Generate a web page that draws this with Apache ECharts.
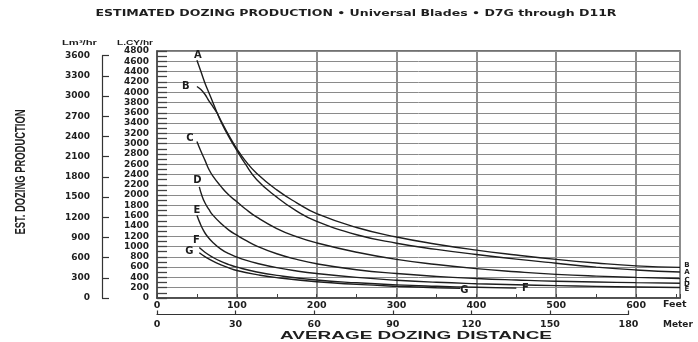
<!DOCTYPE html>
<html>
<head>
<meta charset="utf-8">
<script src="https://cdn.jsdelivr.net/npm/echarts@6/dist/echarts.min.js"></script>
<style>html,body{margin:0;padding:0;background:#fff;overflow:hidden}#c{width:698px;height:342px}</style>
</head>
<body>
<div id="c"></div>
<script>
// ---------- data (feet, loose cubic yards per hour) ----------
const curveNames = ['A', 'B', 'C', 'D', 'E', 'F', 'G'];
const curveA = [[50,4620],[55,4400],[60,4180],[65,3990],[70,3800],[75,3610],[80,3430],[90,3130],[100,2870],[110,2620],[125,2300],[150,1960],[175,1690],[200,1490],[250,1230],[300,1065],[350,945],[400,845],[450,755],[500,675],[550,600],[600,545],[655,505]];
const curveB = [[50,4110],[55,4050],[60,3960],[65,3830],[70,3720],[75,3600],[80,3450],[90,3160],[100,2900],[110,2680],[125,2420],[150,2100],[175,1850],[200,1640],[250,1370],[300,1185],[350,1045],[400,930],[450,835],[500,750],[550,680],[600,625],[655,595]];
const curveC = [[50,3040],[55,2850],[60,2680],[65,2500],[70,2370],[80,2170],[90,2000],[100,1870],[110,1740],[125,1570],[150,1350],[175,1190],[200,1070],[250,890],[300,750],[350,650],[400,570],[450,510],[500,460],[550,425],[600,400],[655,380]];
const curveD = [[53,2160],[56,2000],[60,1850],[65,1720],[70,1610],[80,1450],[90,1320],[100,1220],[110,1130],[125,1010],[150,860],[175,750],[200,665],[250,550],[300,475],[350,420],[400,380],[450,350],[500,325],[550,310],[600,298],[655,288]];
const curveE = [[50,1610],[54,1450],[58,1320],[62,1220],[70,1080],[80,950],[90,860],[100,795],[110,740],[125,675],[150,590],[175,525],[200,475],[250,400],[300,345],[350,305],[400,278],[450,258],[500,240],[550,226],[600,214],[655,205]];
const curveF = [[53,980],[60,890],[70,790],[80,710],[90,650],[100,600],[125,505],[150,440],[200,350],[250,295],[300,255],[350,228],[400,208],[450,192]];
const curveG = [[53,880],[60,805],[70,715],[80,645],[90,585],[100,535],[125,455],[150,395],[200,315],[250,265],[300,228],[350,200],[380,188]];
const curves = [curveA, curveB, curveC, curveD, curveE, curveF, curveG];

// axis ranges / ticks
const feetRange = [0, 655], feetTickStep = 50, feetLabelStep = 100;
const lcyRange = [0, 4800], lcyTickStep = 100, lcyLabelStep = 200;
const m3Range = [0, 3600], m3Step = 300;
const meterRange = [0, 180], meterStep = 30;
const LCY_TO_M3 = 0.7646;
const FT_PER_M = 3.28084;

// texts
const titleText = 'ESTIMATED DOZING PRODUCTION \u2022 Universal Blades \u2022 D7G through D11R';
const yTitle = 'EST. DOZING PRODUCTION';
const xTitle = 'AVERAGE DOZING DISTANCE';
const m3Unit = 'Lm\u00b3/hr';
const lcyUnit = 'L.CY/hr';

// ---------- layout (pixels) ----------
const W = 698, H = 342;
const plotL = 157, plotR = 18, plotT = 51, plotB = 44;
const plotW = W - plotL - plotR, plotH = H - plotT - plotB;
const m3GridH = plotH * m3Range[1] / (lcyRange[1] * LCY_TO_M3);
const meterGridW = plotW * (meterRange[1] * FT_PER_M) / feetRange[1];

const startLabelOffset = {A:[1,-5], B:[-11,0], C:[-7,-3], D:[-2,-6], E:[0,-5], F:[-3,-7], G:[-10,-1]};
const endLabelOffset = {A:[7,0], B:[7,-2], C:[7,2], D:[7,1.5], E:[7,1.5], F:[9,0], G:[4,2.5]};

const numFont = 'DejaVu Sans';
const ink = '#1e1e1e';
const clear = 'rgba(0,0,0,0)';
const plain = v => String(v);

const mctx = document.createElement('canvas').getContext('2d');
function fitScale(text, font, w) { mctx.font = font; return w / mctx.measureText(text).width; }

function buildOption(f) {
  const lab = f.fonts ? {fontFamily: numFont, fontWeight: 'bold'} : {};
  const series = curves.map((pts, i) => {
    const name = curveNames[i];
    const s = {type: 'line', name: name, xAxisIndex: 0, yAxisIndex: 0, data: pts, smooth: 0.5,
      showSymbol: false, symbol: 'none', lineStyle: {color: ink, width: 1.4}};
    if (f.silentZ) { s.silent = true; s.z = 5; s.animation = false; }
    if (f.markPoint) s.markPoint = {symbol: 'circle', symbolSize: 1, itemStyle: {color: clear},
      label: {show: true, position: 'inside', formatter: name, fontSize: 10}, data: [{coord: pts[0]}]};
    if (f.endLabel) s.endLabel = {show: true, formatter: name, fontSize: 7};
    return s;
  });
  const grids = [
    {left: plotL, right: plotR, top: plotT, bottom: plotB, show: true, borderColor: '#444', borderWidth: 1.5},
    {left: 102, width: 1, top: H - plotB - m3GridH, bottom: plotB}
  ];
  const xs = [
    {type: 'value', gridIndex: 0, min: feetRange[0], max: feetRange[1], interval: feetTickStep,
      axisLine: {show: true, lineStyle: {color: '#444', width: 1.5}},
      axisTick: {show: true, inside: true, length: 4, lineStyle: {color: '#444', width: 1}},
      splitLine: {show: true, lineStyle: {color: ['#8c8c8c', clear], width: 2}},
      axisLabel: Object.assign({margin: 3, fontSize: 9.5, color: ink,
        formatter: v => (v % feetLabelStep === 0 ? String(v) : '')}, lab)},
    {type: 'value', gridIndex: 1, show: false, min: 0, max: 1}
  ];
  const ys = [
    {type: 'value', gridIndex: 0, min: lcyRange[0], max: lcyRange[1], interval: lcyTickStep,
      axisLine: {show: true, lineStyle: {color: '#444', width: 1.5}},
      axisTick: {show: true, inside: true, length: 10, lineStyle: {color: '#444', width: 1.3}},
      splitLine: {show: true, lineStyle: {color: ['#8a8a8a', clear], width: 1}},
      axisLabel: Object.assign({margin: 8, fontSize: 9, color: ink,
        formatter: v => (v % lcyLabelStep === 0 ? String(v) : '')}, lab)},
    {type: 'value', gridIndex: 1, position: 'left', min: m3Range[0], max: m3Range[1], interval: m3Step,
      axisLine: {show: true, lineStyle: {color: '#333', width: 1.2}},
      axisTick: {show: true, inside: true, length: 7, lineStyle: {color: '#333', width: 1.2}},
      splitLine: {show: false},
      axisLabel: Object.assign({margin: 12, fontSize: 9, color: ink, formatter: plain}, lab)}
  ];
  if (f.grid2) {
    grids.push({left: plotL, width: meterGridW, top: 300, bottom: 27.5});
    xs.push({type: 'value', gridIndex: 2, min: meterRange[0], max: meterRange[1], interval: meterStep,
      axisLine: {show: true, lineStyle: {color: '#333', width: 1.2}},
      axisTick: {show: true, inside: true, length: 4, lineStyle: {color: '#333', width: 1.2}},
      splitLine: {show: false},
      axisLabel: Object.assign({margin: 5, fontSize: 9.5, color: ink, formatter: plain}, lab)});
    ys.push({type: 'value', gridIndex: 2, show: false, min: 0, max: 1});
  }
  const opt = {animation: false, backgroundColor: '#fff', grid: grids, xAxis: xs, yAxis: ys, series: series};
  if (f.graphic) opt.graphic = [{type: 'text', x: 356, y: 14, scaleX: 1.2, silent: true,
      style: {text: titleText, font: 'bold 9.5px "DejaVu Sans"', fill: ink, align: 'center', verticalAlign: 'middle'}}];
  return opt;
}

// off-screen warm-up renders (fonts and renderer primed before the visible chart is drawn)
function warmUp(f) {
  const div = document.createElement('div');
  div.style.cssText = 'position:absolute;left:-3000px;top:0;width:698px;height:342px';
  document.body.appendChild(div);
  const c = echarts.init(div, null, {renderer: 'canvas', width: W, height: H});
  let n = 0;
  try {
    c.setOption(buildOption(f));
    n = c.getZr().storage.getDisplayList(true).length;
  } catch (e) { n = -1; }
  c.dispose();
  return n;
}
const full = {fonts: true, silentZ: true, markPoint: true, endLabel: true, graphic: true, grid2: true};
const warmCases = [
  full,
  Object.assign({}, full, {markPoint: false}),
  Object.assign({}, full, {endLabel: false}),
  Object.assign({}, full, {fonts: false}),
  Object.assign({}, full, {graphic: false}),
  Object.assign({}, full, {silentZ: false}),
  Object.assign({}, full, {grid2: false}),
  {fonts: false, silentZ: false, markPoint: false, endLabel: false, graphic: false, grid2: false}
];
warmCases.forEach(warmUp);

// ---- visible chart: labels as graphic text positioned through the axes ----
const chart = echarts.init(document.getElementById('c'), null, {renderer: 'canvas', width: W, height: H});
chart.setOption(buildOption({fonts: true, silentZ: false, markPoint: false, endLabel: false, graphic: false, grid2: true}));

const titleFont = 'bold 9.5px "DejaVu Sans"';
const xTitleFont = 'bold 10.5px "Liberation Sans"';
const yTitleFont = 'bold 15px "Liberation Sans"';
const unitFont = 'bold 8px "Liberation Sans"';
const gfx = [
  {type: 'text', x: 356, y: 14, scaleX: fitScale(titleText, titleFont, 521), silent: true,
    style: {text: titleText, font: titleFont, fill: ink, align: 'center', verticalAlign: 'middle'}},
  {type: 'text', x: 416, y: 336, scaleX: fitScale(xTitle, xTitleFont, 272), silent: true,
    style: {text: xTitle, font: xTitleFont, fill: ink, align: 'center', verticalAlign: 'middle'}},
  {type: 'text', x: 21, y: 172, rotation: Math.PI / 2, scaleX: fitScale(yTitle, yTitleFont, 125), silent: true,
    style: {text: yTitle, font: yTitleFont, fill: ink, align: 'center', verticalAlign: 'middle'}},
  {type: 'text', x: 79.5, y: 43, scaleX: fitScale(m3Unit, unitFont, 35), silent: true,
    style: {text: m3Unit, font: unitFont, fill: ink, align: 'center', verticalAlign: 'middle'}},
  {type: 'text', x: 135, y: 43, scaleX: fitScale(lcyUnit, unitFont, 36), silent: true,
    style: {text: lcyUnit, font: unitFont, fill: ink, align: 'center', verticalAlign: 'middle'}},
  {type: 'text', x: 663, y: 305, silent: true,
    style: {text: 'Feet', font: 'bold 9.5px "DejaVu Sans"', fill: ink, align: 'left', verticalAlign: 'middle'}},
  {type: 'text', x: 663, y: 325, silent: true,
    style: {text: 'Meter', font: 'bold 9px "DejaVu Sans"', fill: ink, align: 'left', verticalAlign: 'middle'}}
];
// curve letters at the start and end of each curve, placed through the chart's own axes
curves.forEach((pts, i) => {
  const name = curveNames[i];
  const p0 = chart.convertToPixel({gridIndex: 0}, pts[0]);
  const p1 = chart.convertToPixel({gridIndex: 0}, pts[pts.length - 1]);
  const so = startLabelOffset[name], eo = endLabelOffset[name];
  gfx.push({type: 'text', x: p0[0] + so[0], y: p0[1] + so[1], silent: true,
    style: {text: name, font: 'bold 10px "DejaVu Sans"', fill: ink, align: 'center', verticalAlign: 'middle'}});
  const big = name === 'F' || name === 'G';
  gfx.push({type: 'text', x: p1[0] + eo[0], y: p1[1] + eo[1], silent: true,
    style: {text: name, font: 'bold ' + (big ? 10 : 7) + 'px "DejaVu Sans"', fill: ink, align: 'center', verticalAlign: 'middle'}});
});
chart.setOption({graphic: gfx});
</script>
</body>
</html>
